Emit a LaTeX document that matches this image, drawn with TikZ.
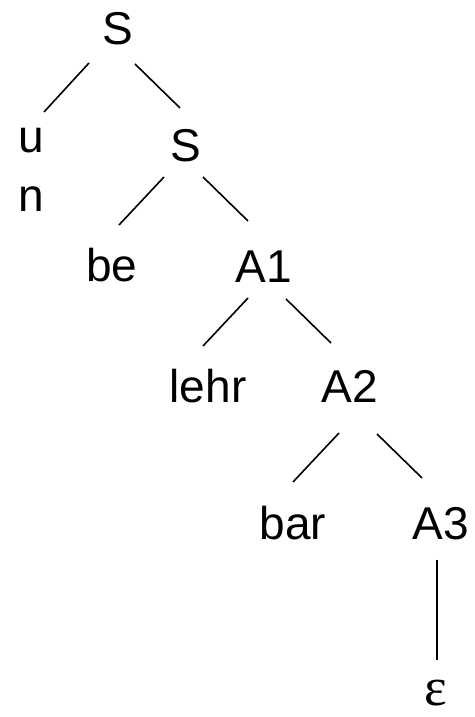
\documentclass[tikz,border=0pt]{standalone}
\usepackage{fontspec}
\setmainfont{Liberation Sans}
\newfontfamily\epsfont{Liberation Serif}
\usetikzlibrary{calc}
\begin{document}
\begin{tikzpicture}[x=1pt,y=1pt,
  lbl/.style={inner sep=0pt, anchor=base, font=\fontsize{46}{50}\selectfont},
  edge/.style={line width=1.6pt}]
\useasboundingbox (0,0) rectangle (474,717);
\node[lbl] (S1) at (118,672) {S};
\node[lbl] (u) at (31,564) {u};
\node[lbl] (n) at (31,505) {n};
\node[lbl] (S2) at (186,555) {S};
\node[lbl] (be) at (112,435) {be};
\node[lbl] (A1) at (264,434) {A1};
\node[lbl] (lehr) at (208,314) {lehr};
\node[lbl] (A2) at (350,314) {A2};
\node[lbl] (bar) at (293,177) {bar};
\node[lbl] (A3) at (441,177) {A3};
\node[lbl] (eps) at (436,12) {\epsfont\fontsize{54}{58}\selectfont ε};
\draw[edge] ($(S1.base)+(-29,-18)$) -- ($(u.base)+(13,41)$);
\draw[edge] ($(S1.base)+(17,-19)$) -- ($(S2.base)+(-6,54)$);
\draw[edge] ($(S2.base)+(-22,-15)$) -- ($(be.base)+(7,57)$);
\draw[edge] ($(S2.base)+(17,-15)$) -- ($(A1.base)+(-16,62)$);
\draw[edge] ($(A1.base)+(-16,-15)$) -- ($(lehr.base)+(-5,57)$);
\draw[edge] ($(A1.base)+(22,-16)$) -- ($(A2.base)+(-19,60)$);
\draw[edge] ($(A2.base)+(-11,-30)$) -- ($(bar.base)+(0,58)$);
\draw[edge] ($(A2.base)+(27,-31)$) -- ($(A3.base)+(-19,62)$);
\draw[edge] ($(A3.base)+(-4,-20)$) -- ($(eps.base)+(1,45)$);
\end{tikzpicture}
\end{document}
